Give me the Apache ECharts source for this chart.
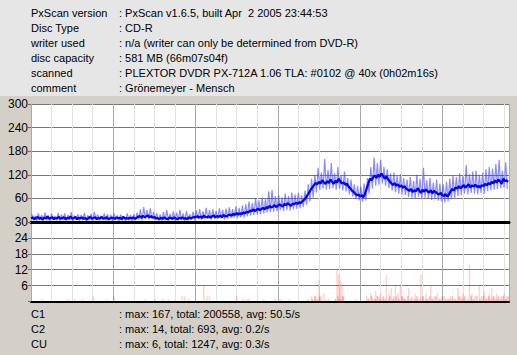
<!DOCTYPE html>
<html><head><meta charset="utf-8">
<script src="https://cdn.jsdelivr.net/npm/echarts@6/dist/echarts.min.js"></script>
<style>html,body{margin:0;padding:0;background:#d4d0c8;}#c{width:517px;height:355px;}</style>
</head><body><div id="c"></div>
<script>
// ---- header info ----
const infoKeys = ['PxScan version','Disc Type','writer used','disc capacity','scanned','comment'];
const infoValues = [': PxScan v1.6.5, built Apr  2 2005 23:44:53', ': CD-R', ': n/a (writer can only be determined from DVD-R)', ': 581 MB (66m07s04f)', ': PLEXTOR DVDR PX-712A 1.06 TLA: #0102 @ 40x (0h02m16s)', ': Grönemeyer - Mensch'];
const statKeys = ['C1','C2','CU'];
const statValues = [': max: 167, total: 200558, avg: 50.5/s', ': max: 14, total: 693, avg: 0.2/s', ': max: 6, total: 1247, avg: 0.3/s'];

// ---- axes ----
const discMB = 581;
const c1Ticks = [60,120,180,240,300];
const lowTicks = [6,12,18,24,30];

// ---- C1 core (every 2 MB from 0) ----
const c1Step = 2;
const c1Core = [
 9,12,7,10,13,8,11,6,12,9, 14,8,10,12,7,11,9,13,8,10,
 12,7,11,9,14,8,10,13,7,11, 9,12,8,10,6,11,13,8,10,12,
 7,11,9,13,8,10,12,7,9,11, 10,8,12,9,11,7,13,9,10,8,
 11,9,12,8,10,13,15,11,16,12, 14,17,12,15,11,13,9,10,7,11,
 8,12,9,7,11,10,8,12,9,7, 11,9,12,8,10,7,12,9,11,13,
 12,15,11,14,10,16,13,12,15,11, 14,17,12,15,13,16,12,18,14,15,
 17,19,16,21,18,23,19,22,20,24, 22,26,24,29,27,32,28,31,34,30,
 33,36,32,38,35,41,37,39,43,38, 41,45,42,39,46,43,48,44,41,47,
 45,49,46,50,48,53,56,62,68,75, 82,88,94,99,96,102,98,106,101,97,
 104,99,108,102,97,105,100,110,103,98, 101,95,97,90,86,80,77,72,68,70,
 65,68,63,72,85,98,110,106,114,118, 112,120,115,123,117,110,116,108,104,98,
 94,99,92,96,89,93,87,91,85,82, 79,84,76,81,78,86,80,74,82,77,
 83,78,75,81,73,79,76,72,70,74, 68,66,71,65,70,78,84,80,88,85,
 91,86,89,94,87,92,96,88,93,90, 95,89,92,87,94,91,97,93,99,96,
 102,98,106,100,108,103,97,110,104,106, 102];
// ---- C1 spread (every 2 MB from 1) ----
const c1Spread = [
 20,4,16,3,22,5,18,2,24,4, 17,3,21,5,15,4,23,3,19,5,
 22,2,18,4,25,3,16,5,20,3, 18,4,23,2,17,5,21,3,26,4,
 19,3,16,5,22,2,20,4,18,3, 21,5,17,3,19,4,15,2,22,4,
 18,3,20,5,24,6,32,4,38,7, 30,6,35,8,26,5,22,4,19,3,
 25,4,30,3,21,5,27,3,24,4, 31,5,22,3,28,4,20,6,26,5,
 29,7,33,6,27,8,36,7,30,6, 32,8,28,7,35,9,31,6,34,8,
 37,10,33,11,40,9,36,12,42,11, 45,14,52,16,48,18,60,19,55,20,
 62,22,58,24,78,25,82,26,66,27, 68,30,62,28,72,31,66,29,75,32,
 70,33,74,35,68,38,80,44,96,52, 110,62,120,75,138,82,126,85,160,83,
 132,84,150,86,124,82,140,85,118,80, 128,78,112,70,108,65,96,58,92,55,
 90,52,98,55,112,72,140,85,164,92, 150,95,158,98,140,92,134,86,124,80,
 126,76,118,72,122,70,112,68,108,64, 114,62,104,60,120,64,110,58,138,62,
 106,60,112,56,100,58,108,54,98,52, 96,50,102,52,110,58,118,62,114,66,
 124,68,118,72,145,70,122,74,128,72, 130,70,120,74,126,72,134,78,140,80,
 136,82,148,84,158,86,130,88,152,84];

// ---- C2 / CU events [MB, count] ----
const c2Events = [[14,1],[45,1],[53,1],[63,1],[76,2],[92,1],[101,2],[139,1],[151,1],[160,1],[167,1],[184,2],[187,2],[192,1],[210,6],[214,2],[217,2],[250,2],[258,1],[262,1],[265,1],
 [283,1],[297,1],[303,1],[314,1],[337,1],[341,2],[346,2],[350,8],[353,2],[356,3],[359,1],[362,1],[372,12],[374,10],[376,8],[378,6],[380,2],[395,1],[408,2],[413,3],[416,1],[419,4],[422,2],[425,3],[429,1],[432,10],[435,3],[438,5],[441,2],[443,6],[446,3],[449,6],[452,2],[455,1],[459,5],[463,2],[467,3],[470,1],[474,10],[477,2],[480,3],[483,1],[486,6],[490,2],[494,3],[498,1],[502,2],[506,1],[510,2],[514,1],[519,5],[522,2],[525,3],[528,1],[533,14],[536,3],[540,2],[545,6],[548,2],[551,4],[554,1],[557,3],[560,5],[563,2],[566,3],[569,1],[572,2],[575,3],[578,2]];
const cuEvents = [[342,1],[345,2],[348,1],[351,2],[370,1],[373,2],[376,1],[379,2],
 [410,1],[414,2],[418,1],[421,2],[424,1],[428,2],[431,1],[436,2],[440,1],[444,2],[447,1],[451,2],[454,1],[458,2],[462,1],[466,1],[469,2],[473,1],[476,2],[481,1],[485,2],[488,1],[492,2],[496,1],[500,2],[504,1],[508,1],[512,2],[516,1],[520,2],[524,1],[527,2],[531,1],[535,2],[538,1],[542,2],[546,1],[550,2],[553,1],[556,2],[559,1],[562,2],[565,1],[568,2],[571,1],[574,2],[577,1],[580,2]];

const coreData = c1Core.map((v,i)=>[i*c1Step, v]);
const spreadData = c1Spread.map((v,i)=>[i*c1Step + c1Step/2, v]);

const FONT = 'Liberation Sans, Arial, sans-serif';
const graphics = [{type:'rect', shape:{x:0,y:0,width:517,height:96}, style:{fill:'#e6e6e6'}, silent:true}];
infoKeys.forEach((k,i)=>{
  graphics.push({type:'text', x:31, y:12.5+i*15, style:{text:k, font:'11px '+FONT, fill:'#000', verticalAlign:'middle'}});
  graphics.push({type:'text', x:119, y:12.5+i*15, style:{text:infoValues[i], font:'11px '+FONT, fill:'#000', verticalAlign:'middle'}});
});
statKeys.forEach((k,i)=>{
  graphics.push({type:'text', x:31, y:314+i*15, style:{text:k, font:'11px '+FONT, fill:'#000', verticalAlign:'middle'}});
  graphics.push({type:'text', x:119, y:314+i*15, style:{text:statValues[i], font:'11px '+FONT, fill:'#000', verticalAlign:'middle'}});
});

const xCommon = {type:'value', min:0, max:discMB, interval:100,
  axisLabel:{show:false}, axisTick:{show:false},
  splitLine:{show:true, lineStyle:{color:'#a8a8a8', width:1}},
  minorTick:{show:false, splitNumber:4},
  minorSplitLine:{show:true, lineStyle:{color:'#e2e2e2', width:1}}};

const chart = echarts.init(document.getElementById('c'), null, {renderer:'svg'});
chart.setOption({
  animation:false,
  backgroundColor:'#d4d0c8',
  graphic: graphics,
  grid:[
    {left:31, right:8, top:104, height:118, show:true, backgroundColor:'#fff', borderWidth:0},
    {left:31, right:8, top:222, height:79.5, show:true, backgroundColor:'#fff', borderWidth:0}
  ],
  xAxis:[
    Object.assign({gridIndex:0, axisLine:{show:true, onZero:false, lineStyle:{color:'#000', width:3}}}, xCommon),
    Object.assign({gridIndex:1, axisLine:{show:true, onZero:false, lineStyle:{color:'#000', width:2}}}, xCommon)
  ],
  yAxis:[
    {gridIndex:0, type:'value', min:0, max:300, interval:60,
     axisLine:{show:true, lineStyle:{color:'#a8a8a8'}},
     axisTick:{show:true, length:3, lineStyle:{color:'#707070'}},
     axisLabel:{margin:3, color:'#000', fontSize:12, fontFamily:FONT, formatter:v=>c1Ticks.includes(v)?String(v):''},
     splitLine:{show:true, lineStyle:{color:'#787878'}}},
    {gridIndex:1, type:'value', min:0, max:30, interval:6,
     axisLine:{show:true, lineStyle:{color:'#a8a8a8'}},
     axisTick:{show:true, length:3, lineStyle:{color:'#707070'}},
     axisLabel:{margin:3, color:'#000', fontSize:12, fontFamily:FONT, formatter:v=>lowTicks.includes(v)?String(v):''},
     splitLine:{show:true, lineStyle:{color:'#787878'}}}
  ],
  series:[
    {type:'line', xAxisIndex:0, yAxisIndex:0, data:spreadData, symbol:'none', lineStyle:{color:'rgba(60,60,255,0.6)', width:1.2}, z:2},
    {type:'line', xAxisIndex:0, yAxisIndex:0, data:coreData, symbol:'none', lineStyle:{color:'#0000ff', width:2.2}, z:3},
    {type:'bar', xAxisIndex:1, yAxisIndex:1, data:c2Events, barWidth:1.5, itemStyle:{color:'rgba(255,0,0,0.18)'}, z:2},
    {type:'bar', xAxisIndex:1, yAxisIndex:1, data:cuEvents, barWidth:1.5, barGap:'-100%', itemStyle:{color:'rgba(255,0,0,0.28)'}, z:3}
  ]
});
</script></body></html>
